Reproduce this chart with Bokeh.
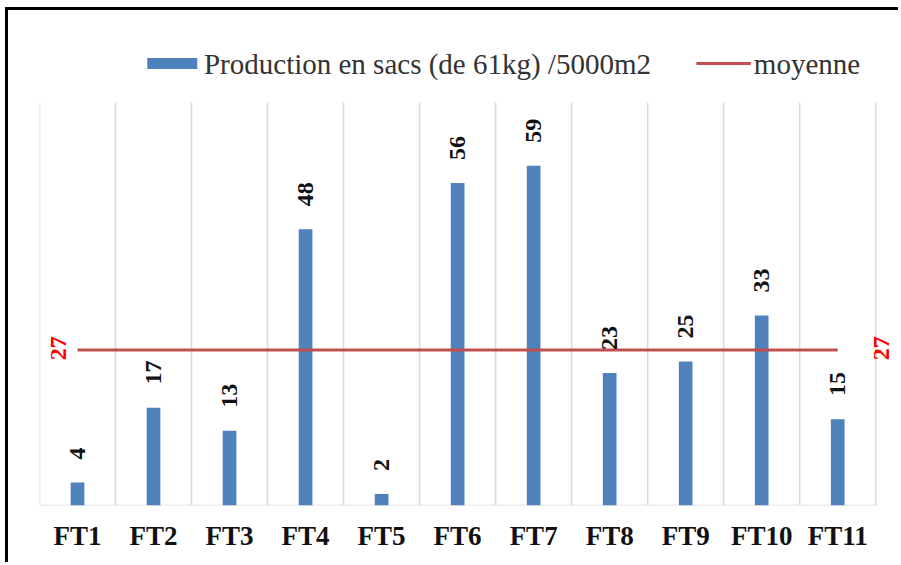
from bokeh.plotting import figure
from bokeh.models import ColumnDataSource, Label, FixedTicker
from bokeh.embed import file_html
from bokeh.resources import INLINE
from bokeh.core.properties import value

# Production per farm (bags of 61 kg per 5000 m2) and the mean
categories = ["FT1", "FT2", "FT3", "FT4", "FT5", "FT6", "FT7", "FT8", "FT9", "FT10", "FT11"]
production = [4, 17, 13, 48, 2, 56, 59, 23, 25, 33, 15]
moyenne = 27
y_max = 70

series_label = "Production en sacs (de 61kg) /5000m2"
mean_label = "moyenne"

BLUE = "#4F81BD"
RED_LINE = "#C0504D"
GRID = "#D9D9D9"
SERIF = "Liberation Serif"

n = len(categories)
centers = [i + 0.5 for i in range(n)]

# plot area geometry (pixels): the frame runs past the gridded area so the
# legend and the right-hand mean label have room
grid_h, frame_h = 403, 493
cat_w = 844 / n
frame_w = 868
px_per_unit = grid_h / y_max

src = ColumnDataSource(dict(
    x=centers,
    top=production,
    label_y=[v + 4 for v in production],
    label=[str(v) for v in production],
))

p = figure(width=893, height=555,
           x_range=(0, frame_w / cat_w), y_range=(0, y_max * frame_h / grid_h),
           output_backend="svg", toolbar_location=None,
           min_border_left=31, min_border_right=2,
           min_border_top=2, min_border_bottom=60,
           margin=(7, 0, 0, 5),
           styles={"border-left": "3px solid #000", "border-top": "3px solid #000"})
p.outline_line_color = None
p.background_fill_color = "white"
p.border_fill_color = "white"
p.xgrid.visible = False
p.ygrid.visible = False

# category boundary gridlines and baseline
bounds = list(range(n + 1))
p.segment(x0=bounds, y0=[0] * len(bounds), x1=bounds, y1=[y_max] * len(bounds),
          line_color=GRID, line_width=1.5)
p.segment(x0=[0], y0=[0], x1=[n], y1=[0], line_color=GRID, line_width=1.5)

# axes
p.yaxis.visible = False
p.xaxis.ticker = FixedTicker(ticks=centers)
p.xaxis.major_label_overrides = {c: cat for c, cat in zip(centers, categories)}
p.xaxis.major_tick_line_color = None
p.xaxis.minor_tick_line_color = None
p.xaxis.axis_line_color = None
p.xaxis.major_label_text_font = SERIF
p.xaxis.major_label_text_font_style = "bold"
p.xaxis.major_label_text_font_size = "27px"
p.xaxis.major_label_text_color = "#111111"
p.xaxis.major_label_standoff = 9

p.vbar(x="x", top="top", width=0.18, source=src, fill_color=BLUE, line_color=None)
p.line(x=[centers[0], centers[-1]], y=[moyenne, moyenne],
       line_color=RED_LINE, line_width=3)

# value labels above bars, rotated
p.text(x="x", y="label_y", text="label", source=src, angle=1.5708,
       text_align="left", text_baseline="middle",
       text_font=value(SERIF), text_font_style="bold",
       text_font_size="24px", text_color="#111111")

# mean value at both ends of the line
for xpos in (0.25, n + 0.07):
    p.add_layout(Label(x=xpos, y=moyenne + 0.3, text=str(moyenne), angle=1.5708,
                       text_align="center", text_baseline="middle",
                       text_font=SERIF, text_font_style="bold",
                       text_font_size="24px", text_color="#FF0000"))

# legend row above the gridded area (placed from pixel offsets in the frame)
def fx(px):
    return px / cat_w

legend_y = y_max + 39 / px_per_unit
p.rect(x=[fx(134)], y=[legend_y], width=50, height=11,
       width_units="screen", height_units="screen",
       fill_color=BLUE, line_color=None)
p.line(x=[fx(663), fx(718)], y=[legend_y, legend_y], line_color=RED_LINE, line_width=3)
for x_px, txt in ((166, series_label), (721, mean_label)):
    p.add_layout(Label(x=fx(x_px), y=legend_y, text=txt,
                       text_align="left", text_baseline="middle",
                       text_font=SERIF, text_font_size="29px",
                       text_color="#333333"))

open("out.html", "w").write(file_html(p, INLINE))
